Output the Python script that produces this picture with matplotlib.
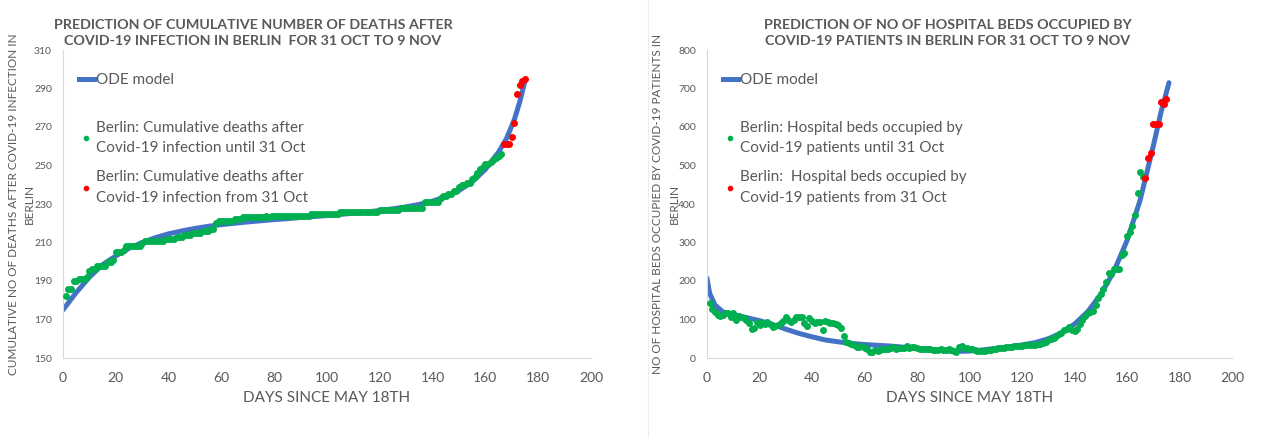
import matplotlib
matplotlib.use("Agg")
import matplotlib.pyplot as plt
from matplotlib.lines import Line2D

plt.rcParams['font.family'] = ['Lato', 'DejaVu Sans']

BLUE = '#4472C4'
GREEN = '#00B050'
RED = '#FF0000'
GRAY = '#595959'
AXIS = '#D9D9D9'

# ---- left chart: cumulative deaths ----
death_days_until = list(range(1, 167))
deaths_until = [
    182, 186, 186, 190, 190, 191, 191, 191, 192, 195,
    196, 196, 198, 198, 198, 198, 200, 200, 201, 205,
    205, 205, 206, 208, 208, 208, 208, 208, 208, 210,
    211, 211, 211, 211, 211, 211, 211, 211, 212, 212,
    212, 212, 213, 213, 213, 214, 214, 214, 215, 215,
    215, 215, 216, 216, 216, 217, 217, 220, 221, 221,
    221, 221, 221, 221, 222, 222, 222, 223, 223, 223,
    223, 223, 223, 223, 223, 223, 224, 223, 224, 224,
    224, 224, 224, 224, 224, 224, 224, 224, 224, 224,
    224, 224, 224, 225, 225, 225, 225, 225, 225, 225,
    225, 225, 225, 225, 226, 226, 226, 226, 226, 226,
    226, 226, 226, 226, 226, 226, 226, 226, 226, 227,
    227, 227, 227, 227, 227, 227, 227, 228, 228, 228,
    228, 228, 228, 228, 228, 228, 231, 231, 231, 231,
    231, 231, 233, 234, 234, 235, 235, 237, 237, 239,
    240, 240, 241, 241, 243, 244, 246, 248, 249, 251,
    251, 252, 253, 254, 255, 256,
]
death_days_from = [167, 168, 169, 170, 171, 172, 173, 174, 175]
deaths_from = [261, 261, 261, 265, 272, 287, 292, 294, 295]

death_model_days = [0, 5, 10, 15, 20, 25, 30, 35, 40, 45, 50, 55, 60, 65, 70, 75, 80, 85,
                    90, 95, 100, 105, 110, 115, 120, 125, 130, 135, 140, 145, 150, 155,
                    160, 165, 168, 171, 173, 175]
death_model = [175, 184, 192, 198.5, 203, 207, 210, 212.5, 214.5, 216, 217.3, 218.4, 219.3,
               220, 220.7, 221.3, 221.9, 222.4, 223, 223.5, 224, 224.6, 225.2, 225.9, 226.6,
               227.5, 228.5, 229.8, 231.5, 233.8, 237, 241.5, 248, 257, 264, 274, 283, 294]

# ---- right chart: hospital beds ----
bed_days_until = list(range(1, 167))
beds_until = [
    142, 127, 120, 112, 109, 112, 118, 116, 107, 118,
    100, 109, 106, 103, 100, 92, 75, 79, 94, 86,
    90, 88, 93, 88, 81, 83, 86, 90, 97, 106,
    99, 94, 99, 106, 106, 106, 90, 84, 103, 97,
    92, 93, 93, 74, 97, 94, 92, 90, 88, 86,
    79, 57, 42, 40, 36, 34, 29, 28, 31, 27,
    23, 16, 16, 21, 19, 21, 23, 24, 24, 26,
    28, 23, 25, 25, 27, 31, 27, 28, 29, 27,
    24, 23, 23, 23, 23, 21, 21, 22, 23, 21,
    22, 23, 21, 19, 16, 29, 31, 27, 25, 23,
    23, 21, 19, 18, 18, 19, 20, 22, 23, 24,
    25, 26, 27, 29, 29, 29, 30, 31, 31, 32,
    33, 34, 34, 34, 35, 36, 36, 39, 42, 46,
    50, 53, 58, 62, 66, 73, 76, 81, 74, 71,
    75, 88, 100, 109, 116, 120, 123, 138, 155, 166,
    178, 198, 220, 217, 230, 230, 230, 267, 272, 317,
    328, 343, 371, 429, 482, 469,
]
bed_days_from = [167, 168, 169, 170, 171, 172, 173, 174, 175]
beds_from = [467, 519, 532, 608, 608, 608, 666, 661, 672]

bed_model_days = [0, 1, 3, 6, 10, 15, 20, 25, 30, 35, 40, 45, 50, 55, 60, 65, 70, 75, 80,
                  85, 90, 95, 100, 105, 110, 115, 120, 125, 130, 135, 140, 145, 150, 155,
                  160, 165, 170, 173, 176]
bed_model = [207, 168, 138, 120, 113, 105, 97, 87, 75, 64, 55, 47, 42, 38, 35, 33, 31, 28,
             25, 22, 19, 17, 18, 21, 25, 29, 34, 40, 50, 65, 88, 120, 165, 225, 305, 410,
             550, 640, 715]


def style_axes(ax, ymin, ymax, ystep):
    ax.set_xlim(0, 200)
    ax.set_ylim(ymin, ymax)
    ax.set_xticks(range(0, 201, 20))
    ax.set_yticks(range(ymin, ymax + 1, ystep))
    for side in ['top', 'right']:
        ax.spines[side].set_visible(False)
    for side in ['left', 'bottom']:
        ax.spines[side].set_color(AXIS)
        ax.spines[side].set_linewidth(0.8)
    ax.tick_params(length=0, colors=GRAY)
    ax.tick_params(axis='x', labelsize=10, pad=10)
    ax.tick_params(axis='y', labelsize=7.5, pad=8)
    ax.set_xlabel('DAYS SINCE MAY 18TH', fontsize=11, color=GRAY, labelpad=5)


def draw_panel(ax, model_x, model_y, x1, y1, x2, y2, label1, label2):
    ax.plot(model_x, model_y, color=BLUE, lw=3.6, solid_capstyle='round', zorder=2)
    ax.plot(x1, y1, 'o', color=GREEN, ms=4, zorder=3)
    ax.plot(x2, y2, 'o', color=RED, ms=4, zorder=3)

    # model entry and data entries sit in two separate legends, like the original
    leg1 = ax.legend([Line2D([], [], color=BLUE, lw=3.6)], ['ODE model'],
                     loc='center left', bbox_to_anchor=(0.03, 0.903), frameon=False,
                     fontsize=11, handlelength=1.0, handletextpad=0.1,
                     borderpad=0, borderaxespad=0)
    for t in leg1.get_texts():
        t.set_color(GRAY)
    ax.add_artist(leg1)

    dots = [Line2D([], [], color=GREEN, marker='o', ms=3, ls=''),
            Line2D([], [], color=RED, marker='o', ms=3, ls='')]
    leg2 = ax.legend(dots, [label1, label2], loc='center left',
                     bbox_to_anchor=(0.03, 0.634), frameon=False, fontsize=11,
                     handlelength=1.0, handletextpad=0.15, labelspacing=0.98,
                     borderpad=0, borderaxespad=0)
    for t in leg2.get_texts():
        t.set_color(GRAY)
        t.set_linespacing(1.6)


fig = plt.figure(figsize=(12.68, 4.38), dpi=100)
ax1 = fig.add_axes([63 / 1268, 80 / 438, 528 / 1268, 308 / 438])
ax2 = fig.add_axes([707 / 1268, 80 / 438, 525 / 1268, 308 / 438])

draw_panel(ax1, death_model_days, death_model, death_days_until, deaths_until,
           death_days_from, deaths_from,
           'Berlin: Cumulative deaths after\nCovid-19 infection until 31 Oct',
           'Berlin: Cumulative deaths after\nCovid-19 infection from 31 Oct')
style_axes(ax1, 150, 310, 20)
ax1.set_ylabel('CUMULATIVE NO OF DEATHS AFTER COVID-19 INFECTION IN\nBERLIN',
               fontsize=8.5, color=GRAY, labelpad=-0.9, linespacing=1.6)

draw_panel(ax2, bed_model_days, bed_model, bed_days_until, beds_until,
           bed_days_from, beds_from,
           'Berlin: Hospital beds occupied by\nCovid-19 patients until 31 Oct',
           'Berlin:  Hospital beds occupied by\nCovid-19 patients from 31 Oct')
style_axes(ax2, 0, 800, 100)
ax2.set_ylabel('NO OF HOSPITAL BEDS OCCUPIED BY COVID-19 PATIENTS IN\nBERLIN',
               fontsize=8.5, color=GRAY, labelpad=-0.9, linespacing=1.6)

fig.text(253 / 1268, 1 - 33 / 438,
         'PREDICTION OF CUMULATIVE NUMBER OF DEATHS AFTER\nCOVID-19 INFECTION IN BERLIN  FOR 31 OCT TO 9 NOV',
         ha='center', va='center', fontsize=10.3, fontweight='bold', color=GRAY,
         linespacing=1.45)
fig.text(948 / 1268, 1 - 33 / 438,
         'PREDICTION OF NO OF HOSPITAL BEDS OCCUPIED BY\nCOVID-19 PATIENTS IN BERLIN FOR 31 OCT TO 9 NOV',
         ha='center', va='center', fontsize=10.3, fontweight='bold', color=GRAY,
         linespacing=1.45)

# thin border of the second chart
fig.add_artist(Line2D([648 / 1268, 648 / 1268], [0, 1], color='#EDEDED', lw=0.8))

fig.savefig('out.png', dpi=100)
